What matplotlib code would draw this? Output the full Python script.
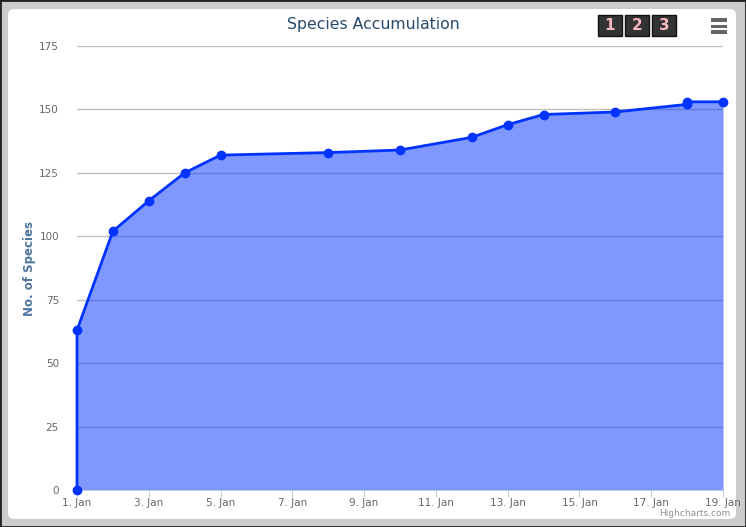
import matplotlib.pyplot as plt
from matplotlib.patches import FancyBboxPatch, Rectangle

# data (day of January, species count)
days = [1, 1, 2, 3, 4, 5, 8, 10, 12, 13, 14, 16, 18, 18, 19]
species = [0, 63, 102, 114, 125, 132, 133, 134, 139, 144, 148, 149, 152, 153, 153]
tick_days = [1, 3, 5, 7, 9, 11, 13, 15, 17, 19]
tick_labels = [f'{d}. Jan' for d in tick_days]
y_ticks = [0, 25, 50, 75, 100, 125, 150, 175]

line_col = '#0033ff'

fig = plt.figure(figsize=(7.46, 5.27), dpi=100)
fig.patch.set_facecolor('#cccccc')

# frame around the chart
fig.add_artist(Rectangle((0, 0), 1, 1, transform=fig.transFigure, fill=False,
                         edgecolor='#222222', linewidth=2, zorder=-2))
fig.add_artist(FancyBboxPatch((8 / 746, 8 / 527), 728 / 746, 510 / 527,
                              boxstyle='round,pad=0,rounding_size=0.01',
                              transform=fig.transFigure, facecolor='white',
                              edgecolor='none', zorder=-1))

ax = fig.add_axes([77 / 746, 37 / 527, 646 / 746, 444 / 527])
ax.set_facecolor('none')

ax.fill_between(days, species, 0, color=line_col, alpha=0.5, linewidth=0, zorder=2)
ax.plot(days, species, color=line_col, linewidth=2, marker='o', markersize=6,
        zorder=3, clip_on=False)

ax.set_xlim(1, 19)
ax.set_ylim(0, 175)
ax.set_yticks(y_ticks)
ax.set_xticks(tick_days)
ax.set_xticklabels(tick_labels)
ax.grid(axis='y', color='#c0c0c0', linewidth=1, zorder=1)
ax.set_axisbelow(True)

for s in ['top', 'right', 'left']:
    ax.spines[s].set_visible(False)
ax.spines['bottom'].set_color('#c0d0e0')
ax.tick_params(axis='y', length=0, pad=13, labelsize=7.5, labelcolor='#666666')
ax.tick_params(axis='x', length=5, color='#c0d0e0', pad=1, labelsize=7.5,
               labelcolor='#666666')

ax.set_ylabel('No. of Species', fontsize=8.5, fontweight='bold', color='#4d759e')
ax.yaxis.set_label_coords(-41 / 646, 0.5)

fig.text(373 / 746, 1 - 25 / 527, 'Species Accumulation', ha='center', va='center',
         fontsize=11.3, color='#274b6d')
fig.text(730 / 746, 1 - 514 / 527, 'Highcharts.com', ha='right', va='center',
         fontsize=6.5, color='#909090')

# export/button icons in the top right
for i, lbl in enumerate(['1', '2', '3']):
    x0 = 598 + i * 27
    fig.add_artist(Rectangle((x0 / 746, 1 - 36 / 527), 24 / 746, 21 / 527,
                             transform=fig.transFigure, facecolor='#333333',
                             edgecolor='#111111', linewidth=1))
    fig.text((x0 + 12) / 746, 1 - 25.5 / 527, lbl, ha='center', va='center',
             fontsize=11, fontweight='bold', color='#f4b8c0')
for dy in [20, 26, 32]:
    fig.add_artist(Rectangle((711 / 746, 1 - (dy + 1.5) / 527), 16 / 746, 3 / 527,
                             transform=fig.transFigure, facecolor='#666666',
                             edgecolor='none'))

fig.savefig('out.png', dpi=100, facecolor=fig.get_facecolor())
